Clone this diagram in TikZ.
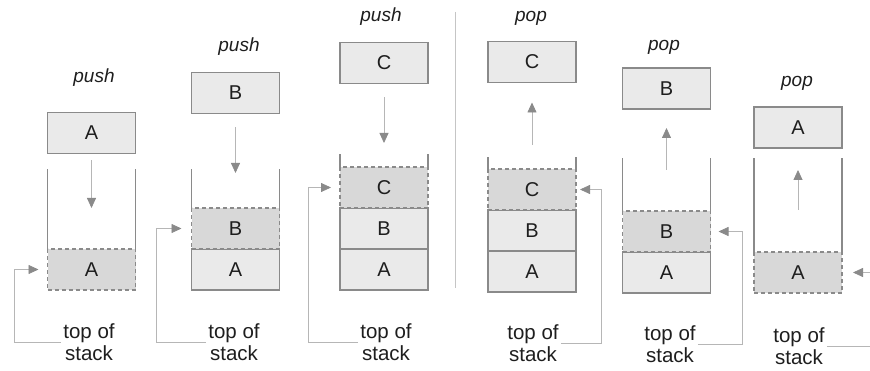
\documentclass[tikz,border=0pt]{standalone}
\usepackage{fontspec}
\setmainfont{Liberation Sans}
\usetikzlibrary{arrows.meta, positioning}
\definecolor{cellgray}{RGB}{234, 234, 234}
\definecolor{topgray}{RGB}{216, 216, 216}
\definecolor{edgegray}{RGB}{138, 138, 138}
\definecolor{linegray}{RGB}{182, 182, 182}
\definecolor{inkgray}{RGB}{30, 30, 30}
\tikzset{
  >=Stealth,
  cell/.style={draw=edgegray, fill=cellgray, line width=1.4pt, minimum width=88pt, minimum height=41pt, outer sep=0pt, text=inkgray, font=\fontsize{20}{23}\selectfont},
  topcell/.style={cell, fill=topgray, dash pattern=on 4pt off 3pt},
  wall/.style={edgegray, line width=1.4pt},
  movearrow/.style={-{Triangle[length=10pt, width=9pt, color=edgegray]}, linegray, line width=0.8pt},
  ptrarrow/.style={-{Triangle[length=10pt, width=9pt, color=edgegray]}, linegray, line width=0.8pt},
  divider/.style={linegray!80, line width=0.8pt},
  oplabel/.style={text=inkgray, font=\fontsize{19}{21}\selectfont\itshape},
  toslabel/.style={align=center, inner sep=2pt, text=inkgray, font=\fontsize{20.5}{22.5}\selectfont}
}
\begin{document}
\begin{tikzpicture}[x=1pt, y=-1pt]
\useasboundingbox (0,0) rectangle (870,371);
\clip (0,0) rectangle (870,371);
% push A
\node[oplabel] (op1) at (94,78) {push};
\node[cell] (new1) at (91.5,133) {A};
\node[topcell] (s1a) at (91.5,269.5) {A};
\draw[wall] (s1a.north west) -- ++(0,-80);
\draw[wall] (s1a.north east) -- ++(0,-80);
\draw[movearrow, shorten <=7pt, shorten >=41pt] (new1.south) -- (s1a.north);
\node[toslabel] (tos1) at (89,342) {top of\\stack};
\draw[ptrarrow] (tos1.west) -- ++(-47,0) |- ([xshift=-9pt]s1a.west);
% push B
\node[oplabel] (op2) at (239,47) {push};
\node[cell] (new2) at (235.5,93) {B};
\node[cell] (s2a) at (235.5,269.5) {A};
\node[topcell, above=0pt of s2a] (s2b) {B};
\draw[wall] (s2b.north west) -- ++(0,-39);
\draw[wall] (s2b.north east) -- ++(0,-39);
\draw[movearrow, shorten <=14pt, shorten >=35pt] (new2.south) -- (s2b.north);
\node[toslabel] (tos2) at (234,342) {top of\\stack};
\draw[ptrarrow] (tos2.west) -- ++(-50,0) |- ([xshift=-10pt]s2b.west);
% push C
\node[oplabel] (op3) at (381,17) {push};
\node[cell] (new3) at (384,63) {C};
\node[cell] (s3a) at (384,269.5) {A};
\node[cell, above=0pt of s3a] (s3b) {B};
\node[topcell, above=0pt of s3b] (s3c) {C};
\draw[wall] (s3c.north west) -- ++(0,-13);
\draw[wall] (s3c.north east) -- ++(0,-13);
\draw[movearrow, shorten <=14pt, shorten >=24pt] (new3.south) -- (s3c.north);
\node[toslabel] (tos3) at (386,342) {top of\\stack};
\draw[ptrarrow] (tos3.west) -- ++(-50,0) |- ([xshift=-9pt]s3c.west);
\draw[divider] (455,12) -- (455,288);
% pop C
\node[oplabel] (op4) at (531,18) {pop};
\node[cell] (new4) at (532,62) {C};
\node[cell] (s4a) at (532,271.5) {A};
\node[cell, above=0pt of s4a] (s4b) {B};
\node[topcell, above=0pt of s4b] (s4c) {C};
\draw[wall] (s4c.north west) -- ++(0,-12);
\draw[wall] (s4c.north east) -- ++(0,-12);
\draw[movearrow, shorten <=24pt, shorten >=20pt] (s4c.north) -- (new4.south);
\node[toslabel] (tos4) at (533,343) {top of\\stack};
\draw[ptrarrow] (tos4.east) -- ++(41,0) |- ([xshift=4pt]s4c.east);
% pop B
\node[oplabel] (op5) at (664,47) {pop};
\node[cell] (new5) at (666.5,88.5) {B};
\node[cell] (s5a) at (666.5,272.5) {A};
\node[topcell, above=0pt of s5a] (s5b) {B};
\draw[wall] (s5b.north west) -- ++(0,-53);
\draw[wall] (s5b.north east) -- ++(0,-53);
\draw[movearrow, shorten <=41pt, shorten >=19pt] (s5b.north) -- (new5.south);
\node[toslabel] (tos5) at (670,344) {top of\\stack};
\draw[ptrarrow] (tos5.east) -- ++(45,0) |- ([xshift=8pt]s5b.east);
% pop A
\node[oplabel] (op6) at (797,83) {pop};
\node[cell] (new6) at (798,127.5) {A};
\node[topcell] (s6a) at (798,272.5) {A};
\draw[wall] (s6a.north west) -- ++(0,-94);
\draw[wall] (s6a.north east) -- ++(0,-94);
\draw[movearrow, shorten <=42pt, shorten >=22pt] (s6a.north) -- (new6.south);
\node[toslabel] (tos6) at (799,346) {top of\\stack};
\draw[ptrarrow] (tos6.east) -- ++(53,0) |- ([xshift=11pt]s6a.east);
\end{tikzpicture}
\end{document}
